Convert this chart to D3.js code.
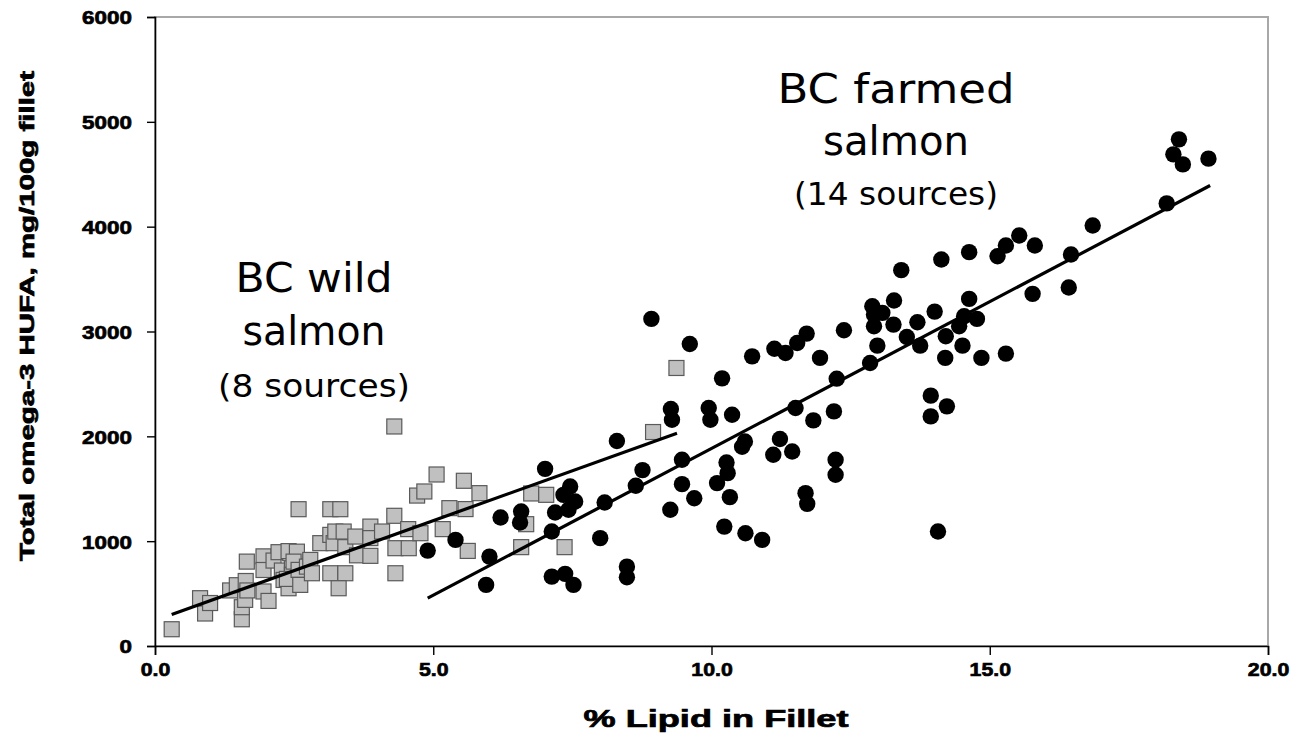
<!DOCTYPE html>
<html>
<head>
<meta charset="utf-8">
<script src="https://cdn.jsdelivr.net/npm/d3@7"></script>
<style>
  html, body { margin: 0; padding: 0; background: #fff; }
  svg { display: block; }
</style>
</head>
<body>
<svg id="chart" width="1296" height="749"></svg>
<script>
// BC wild salmon samples: [% lipid, omega-3 HUFA mg/100g]
const wildSalmon = [
  [0.30,160],[0.81,456],[0.90,310],[0.99,410],[1.35,530],[1.47,580],[1.56,255],[1.56,370],
  [1.62,440],[1.65,805],[1.63,620],[1.66,530],[1.95,855],[1.95,725],[1.95,520],[2.04,430],
  [2.13,815],[2.22,895],[2.28,720],[2.31,630],[2.46,790],[2.46,680],[2.43,885],[2.40,905],
  [2.40,551],[2.37,640],[2.55,900],[2.49,805],[2.58,1305],[2.58,726],[2.61,583],[2.73,757],
  [2.79,821],[2.82,694],[2.97,981],[3.15,1060],[3.15,1305],[3.33,1305],[3.15,694],[3.42,694],
  [3.30,551],[3.21,981],[3.24,1092],[3.39,1092],[3.42,943],[3.60,1044],[3.63,865],[3.87,1139],
  [3.87,1029],[3.87,860],[4.08,1092],[4.30,1242],[4.32,933],[4.56,933],[4.32,694],[4.30,2094],
  [4.55,1115],[4.71,1435],[4.77,1076],[4.84,1474],[5.06,1636],[5.55,1576],[5.83,1458],[5.29,1315],
  [5.58,1306],[5.17,1115],[5.62,907],[6.76,1455],[7.03,1442],[6.67,1162],[6.58,943],[7.36,943],
  [8.95,2041],[9.37,2652]
];

// BC farmed salmon samples: [% lipid, omega-3 HUFA mg/100g]
const farmedSalmon = [
  [4.90,910],[5.40,1012],[6.01,853],[5.95,583],[6.21,1226],[6.58,1283],[6.56,1178],[7.01,1690],
  [7.13,1092],[7.13,662],[7.37,688],[7.52,583],[7.46,1521],[7.34,1442],[7.55,1378],[7.43,1299],
  [7.19,1273],[8.08,1369],[8.00,1029],[8.48,757],[8.48,656],[8.30,1955],[8.76,1678],[8.64,1528],
  [8.92,3120],[9.27,2261],[9.29,2158],[9.26,1299],[9.47,1776],[9.47,1544],[9.61,2881],[9.69,1410],
  [9.95,2270],[9.98,2158],[10.10,1554],[10.19,2553],[10.27,1751],[10.29,1649],[10.33,1420],[10.37,2206],
  [10.23,1139],[10.60,1951],[10.55,1900],[10.61,1076],[10.73,2763],[10.91,1012],[11.11,1824],[11.13,2836],
  [11.23,1974],[11.33,2795],[11.45,1856],[11.51,2270],[11.54,2891],[11.69,1458],[11.72,1356],[11.71,2980],
  [11.83,2152],[11.95,2748],[12.20,2238],[12.23,1776],[12.23,1633],[12.25,2550],[12.38,3012],[12.85,2700],
  [12.89,3241],[12.92,3161],[12.92,3050],[13.07,3178],[12.98,2865],[13.27,3066],[13.28,3295],[13.41,3585],
  [13.51,2948],[13.70,3088],[13.75,2865],[13.94,2388],[13.94,2190],[14.01,3190],[14.07,1092],[14.13,3687],
  [14.20,2748],[14.21,2955],[14.23,2286],[14.45,3050],[14.51,2865],[14.54,3145],[14.63,3311],[14.63,3757],
  [14.77,3120],[14.85,2748],[15.14,3718],[15.29,2789],[15.29,3820],[15.53,3916],[15.81,3820],[15.77,3359],
  [16.42,3419],[16.46,3734],[16.85,4011],[18.18,4222],[18.30,4690],[18.40,4833],[18.47,4594],[18.93,4649]
];

// Fitted trend lines (endpoints)
const wildTrend = [[0.30,300],[9.38,2030]];
const farmedTrend = [[4.90,456],[18.96,4393]];

const xTicks = [0, 5, 10, 15, 20];
const yTicks = [0, 1000, 2000, 3000, 4000, 5000, 6000];

const xTitle = "% Lipid in Fillet";
const yTitle = "Total omega-3 HUFA, mg/100g fillet";
const wildLabel = ["BC wild", "salmon", "(8 sources)"];
const farmedLabel = ["BC farmed", "salmon", "(14 sources)"];

const svg = d3.select("#chart");
const plot = { left: 155, right: 1268, top: 17, bottom: 646 };

const x = d3.scaleLinear().domain([0, 20]).range([plot.left, plot.right]);
const y = d3.scaleLinear().domain([0, 6000]).range([plot.bottom, plot.top]);

const axisFont = "'Liberation Sans', Arial, sans-serif";
const noteFont = "'DejaVu Sans', Verdana, sans-serif";

// stretch bold axis text horizontally
function widen(sel, k) {
  sel.each(function () {
    const w = this.getComputedTextLength();
    d3.select(this).attr("textLength", w * k).attr("lengthAdjust", "spacingAndGlyphs");
  });
}
function heavy(sel) {
  sel.attr("stroke", "#000").attr("stroke-width", 0.7).attr("paint-order", "stroke");
}

// plot frame (top and right edges visible in grey)
svg.append("rect")
  .attr("x", plot.left).attr("y", plot.top)
  .attr("width", plot.right - plot.left).attr("height", plot.bottom - plot.top)
  .attr("fill", "none").attr("stroke", "#a8a8a8").attr("stroke-width", 2);

const line = d3.line().x(d => x(d[0])).y(d => y(d[1]));

// wild: grey squares
const sq = 15;
svg.append("g").selectAll("rect").data(wildSalmon).join("rect")
  .attr("x", d => x(d[0]) - sq / 2).attr("y", d => y(d[1]) - sq / 2)
  .attr("width", sq).attr("height", sq)
  .attr("fill", "#c0c0c0").attr("stroke", "#5a5a5a").attr("stroke-width", 1.2);

// farmed: black circles
svg.append("g").selectAll("circle").data(farmedSalmon).join("circle")
  .attr("cx", d => x(d[0])).attr("cy", d => y(d[1])).attr("r", 8.2)
  .attr("fill", "#000");

// trend lines over the markers
[wildTrend, farmedTrend].forEach(t => {
  svg.append("path").datum(t).attr("d", line)
    .attr("fill", "none").attr("stroke", "#000").attr("stroke-width", 3.2);
});

// axes
const xAxis = svg.append("g").attr("transform", `translate(0,${plot.bottom})`)
  .call(d3.axisBottom(x).tickValues(xTicks).tickFormat(d3.format(".1f")).tickSize(9).tickPadding(8));
const yAxis = svg.append("g").attr("transform", `translate(${plot.left},0)`)
  .call(d3.axisLeft(y).tickValues(yTicks).tickFormat(d3.format("d")).tickSize(8).tickPadding(15));

[xAxis, yAxis].forEach(a => {
  a.select(".domain").attr("stroke", "#000").attr("stroke-width", 1.6);
  a.selectAll(".tick line").attr("stroke", "#000").attr("stroke-width", 1.4);
  a.selectAll(".tick text").attr("fill", "#000")
    .style("font-family", axisFont).style("font-weight", "bold").style("font-size", "19px");
  heavy(a.selectAll(".tick text"));
});
widen(xAxis.selectAll(".tick text"), 1.12);
widen(yAxis.selectAll(".tick text"), 1.18);
yAxis.selectAll(".tick text").attr("dy", "0.36em");

// axis titles
const xt = svg.append("text").attr("x", 716).attr("y", 727)
  .attr("text-anchor", "middle")
  .style("font-family", axisFont).style("font-weight", "bold").style("font-size", "24px")
  .attr("textLength", 265).attr("lengthAdjust", "spacingAndGlyphs")
  .text(xTitle);
heavy(xt);

const yt = svg.append("text")
  .attr("transform", `translate(34,316) rotate(-90)`)
  .attr("text-anchor", "middle")
  .style("font-family", axisFont).style("font-weight", "bold").style("font-size", "21px")
  .attr("textLength", 490).attr("lengthAdjust", "spacingAndGlyphs")
  .text(yTitle);
heavy(yt);

// group annotations
function note(lines, cx, baselines, sizes, widths) {
  lines.forEach((t, i) => {
    svg.append("text").attr("x", cx).attr("y", baselines[i])
      .attr("text-anchor", "middle")
      .style("font-family", noteFont).style("font-size", sizes[i] + "px")
      .attr("textLength", widths[i]).attr("lengthAdjust", "spacingAndGlyphs")
      .attr("fill", "#000")
      .text(t);
  });
}
note(wildLabel, 314, [292, 345, 397], [40, 40, 32], [157, 143, 192]);
note(farmedLabel, 896, [103, 155, 205], [41, 41, 32], [237, 146, 204]);
</script>
</body>
</html>
